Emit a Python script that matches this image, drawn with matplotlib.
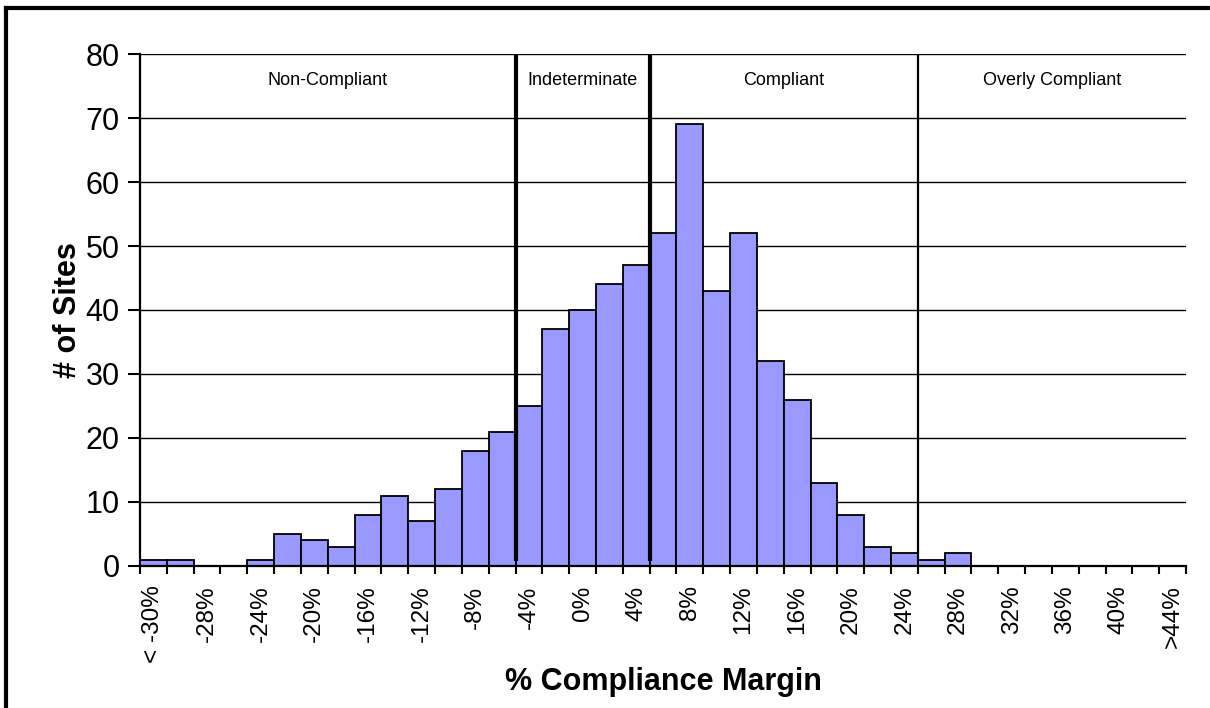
import matplotlib
matplotlib.use("Agg")
import matplotlib.pyplot as plt
from matplotlib.lines import Line2D
import numpy as np

plt.rcParams['font.family'] = ['Liberation Sans', 'DejaVu Sans']

# compliance margin bins (2% wide, open-ended at both sides)
categories = ["< -30%", "-30%", "-28%", "-26%", "-24%", "-22%", "-20%", "-18%",
              "-16%", "-14%", "-12%", "-10%", "-8%", "-6%", "-4%", "-2%", "0%",
              "2%", "4%", "6%", "8%", "10%", "12%", "14%", "16%", "18%", "20%",
              "22%", "24%", "26%", "28%", "30%", "32%", "34%", "36%", "38%",
              "40%", "42%", ">44%"]
sites = [1, 1, 0, 0, 1, 5, 4, 3, 8, 11, 7, 12, 18, 21, 25, 37, 40, 44, 47,
         52, 69, 43, 52, 32, 26, 13, 8, 3, 2, 1, 2, 0, 0, 0, 0, 0, 0, 0, 0]

# zone boundaries: the line sits after this bin
zone_after = ["-6%", "4%", "24%"]
zone_width = [3.0, 3.0, 1.6]
zone_names = ["Non-Compliant", "Indeterminate", "Compliant", "Overly Compliant"]

fig = plt.figure(figsize=(12.1, 7.08), dpi=100)
ax = fig.add_axes([0.1157, 0.2006, 0.8645, 0.7231])

x = np.arange(len(categories))
ax.bar(x, sites, width=1.0, color='#9999FF', edgecolor='black', linewidth=1.3,
       zorder=3)

ax.set_xlim(-0.5, len(categories) - 0.5)
ax.set_ylim(0, 80)

# horizontal grid
ax.set_yticks(range(0, 81, 10))
ax.yaxis.grid(True, color='black', linewidth=1.0, zorder=0)
ax.set_axisbelow(True)

# ticks on bin edges, labels on every other bin
ax.set_xticks(np.arange(-0.5, len(categories), 1.0))
ax.set_xticklabels([])
ax.set_xticks(x[::2], minor=True)
ax.set_xticklabels(categories[::2], minor=True, rotation=90, fontsize=17.5,
                   va='top', ha='center')
ax.tick_params(axis='x', which='major', length=6, width=1.5, direction='out')
ax.tick_params(axis='x', which='minor', length=0, pad=14)
ax.tick_params(axis='y', length=8.5, width=1.5, labelsize=22, pad=6)

for s in ['top', 'right']:
    ax.spines[s].set_visible(False)
for s in ['left', 'bottom']:
    ax.spines[s].set_linewidth(1.6)
ax.spines['bottom'].set_zorder(5)

# zone separators
edges = [-0.5]
for name, lw in zip(zone_after, zone_width):
    xb = categories.index(name) + 0.5
    edges.append(xb)
    ax.plot([xb, xb], [0.8, 80], color='black', linewidth=lw, zorder=4,
            solid_capstyle='butt')
edges.append(len(categories) - 0.5)

for i, name in enumerate(zone_names):
    ax.text((edges[i] + edges[i + 1]) / 2, 75.8, name, ha='center',
            va='center', fontsize=13)

ax.set_ylabel('# of Sites', fontsize=22, fontweight='bold', labelpad=2)
ax.set_xlabel('% Compliance Margin', fontsize=22, fontweight='bold',
              labelpad=3)

# chart frame (only the left and top edges fall inside the picture)
fig.add_artist(Line2D([6 / 1210, 6 / 1210], [0, 1 - 8 / 708],
                      transform=fig.transFigure, color='black', linewidth=3))
fig.add_artist(Line2D([6 / 1210, 1], [1 - 8 / 708, 1 - 8 / 708],
                      transform=fig.transFigure, color='black', linewidth=3))

fig.savefig('out.png', dpi=100)
